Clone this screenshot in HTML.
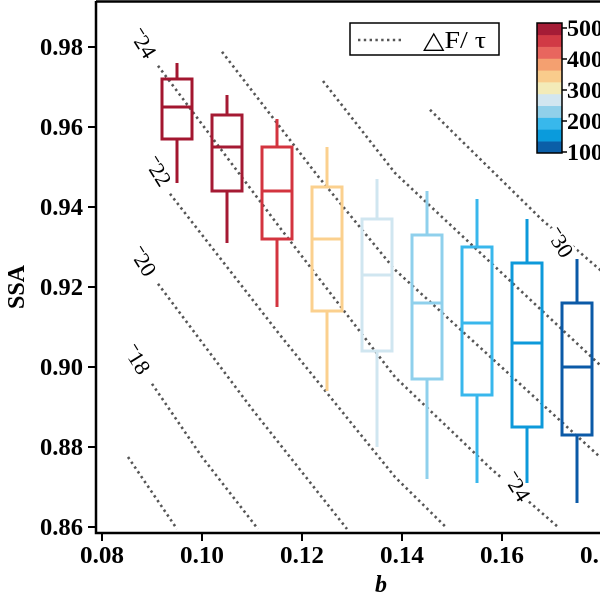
<!DOCTYPE html>
<html><head><meta charset="utf-8"><style>
body{margin:0;background:#fff}
svg text{font-family:"Liberation Serif","Times New Roman",serif}
</style></head><body>
<svg id="chart" width="600" height="600" xmlns="http://www.w3.org/2000/svg">
<defs><clipPath id="plotclip"><rect x="96" y="2" width="510" height="531"/></clipPath></defs>
<g id="contours" clip-path="url(#plotclip)"></g>
<g id="boxes"></g>
<g id="axes"></g>
</svg>
<script>
const categories=[0.095,0.105,0.115,0.125,0.135,0.145,0.155,0.165,0.175];
const whiskerLow=[0.946,0.931,0.915,0.894,0.880,0.872,0.871,0.871,0.866];
const q1=[0.957,0.944,0.932,0.914,0.904,0.897,0.893,0.885,0.883];
const medians=[0.965,0.955,0.944,0.932,0.923,0.916,0.911,0.906,0.900];
const q3=[0.972,0.963,0.955,0.945,0.937,0.933,0.930,0.926,0.916];
const whiskerHigh=[0.976,0.968,0.962,0.955,0.947,0.944,0.942,0.937,0.927];
const boxColors=["#a3162f","#a51a33","#d3343f","#fbd08e","#d0e6f0","#8fd0ec","#38b7ec","#0d99da","#0b5aa7"];
const xTicks=[0.08,0.10,0.12,0.14,0.16,0.18];
const yTicks=[0.86,0.88,0.90,0.92,0.94,0.96,0.98];
const contourLevels=[-16,-18,-20,-22,-24,-26,-28,-30];
const contourPoints=[
 [[0.0852,0.8775],[0.0950,0.8595]],
 [[0.0900,0.8958],[0.1000,0.8775],[0.1112,0.8595]],
 [[0.0912,0.9208],[0.1100,0.8895],[0.1290,0.8595]],
 [[0.0936,0.9433],[0.1156,0.9080],[0.1386,0.8725],[0.1490,0.8597]],
 [[0.0912,0.9753],[0.1156,0.9348],[0.1386,0.8975],[0.1576,0.8748],[0.1712,0.8600]],
 [[0.1040,0.9788],[0.1230,0.9480],[0.1386,0.9243],[0.1796,0.8775]],
 [[0.1242,0.9715],[0.1386,0.9485],[0.1796,0.9005]],
 [[0.1456,0.9643],[0.1680,0.9368],[0.1796,0.9243],[0.1900,0.913]]
];
const contourLabels=[["-24",0.0882,0.9808],["-22",0.0912,0.9488],["-20",0.0882,0.9263],["-18",0.0870,0.9018],["-30",0.1716,0.9310],["-24",0.1630,0.8700]];
const cbarColors=["#0b5fa8","#0a9bdc","#38b8ec","#90d0ea","#d2e6f0","#f3ebb8","#f9cc8c","#f4a070","#e8665e","#d13a45","#a51c36"];
const cbarTicks=[100,200,300,400,500];

const X=b=>102+(b-0.08)*5000;
const Y=s=>527-(s-0.86)*4000;
const NS="http://www.w3.org/2000/svg";
const FF='"Liberation Serif", serif';
function mk(tag,attrs,parent){const e=document.createElementNS(NS,tag);for(const k in attrs)e.setAttribute(k,attrs[k]);if(tag==='text')e.setAttribute('font-family',FF);parent.appendChild(e);return e;}

const cg=document.getElementById('contours');
contourPoints.forEach((pts,i)=>{
 const p=mk('polyline',{points:pts.map(q=>X(q[0])+','+Y(q[1])).join(' '),fill:'none',stroke:'#555','stroke-width':2.6,'stroke-dasharray':'2.4 3.4'},cg);
 
 
});
contourLabels.forEach(l=>{
 const x=X(l[1]),y=Y(l[2]);
 const bg=mk('rect',{x:x-17,y:y-10,width:34,height:20,fill:'#fff',transform:`rotate(58 ${x} ${y})`},cg);
 
 
 const t=mk('text',{x:x,y:y+7,'text-anchor':'middle','font-size':22,textLength:30,lengthAdjust:'spacingAndGlyphs',transform:`rotate(58 ${x} ${y})`},cg);
 t.textContent=l[0].replace('-','\u02C9');
 
 
});

const bg=document.getElementById('boxes');
categories.forEach((c,i)=>{
 const g=mk('g',{stroke:boxColors[i],'stroke-width':3,fill:'none'},bg);
 
 
 const x=X(c),hw=15;
 mk('line',{x1:x,x2:x,y1:Y(whiskerHigh[i]),y2:Y(q3[i])},g);
 mk('line',{x1:x,x2:x,y1:Y(q1[i]),y2:Y(whiskerLow[i])},g);
 mk('rect',{x:x-hw,y:Y(q3[i]),width:2*hw,height:Y(q1[i])-Y(q3[i])},g);
 mk('line',{x1:x-hw,x2:x+hw,y1:Y(medians[i]),y2:Y(medians[i])},g);
});

const ag=document.getElementById('axes');
let sp=mk('polyline',{points:'96,1 96,533 606,533',fill:'none',stroke:'#000','stroke-width':2.5},ag);

let tp=mk('line',{x1:96,x2:606,y1:1.5,y2:1.5,stroke:'#000','stroke-width':2.5},ag);

yTicks.forEach(v=>{
 mk('line',{x1:88,x2:96,y1:Y(v),y2:Y(v),stroke:'#000','stroke-width':2},ag);
 const t=mk('text',{x:40,y:Y(v)+8,'font-size':24,'font-weight':'bold',textLength:43,lengthAdjust:'spacingAndGlyphs'},ag);
 t.textContent=v.toFixed(2);
 
 
});
xTicks.forEach(v=>{
 mk('line',{x1:X(v),x2:X(v),y1:533,y2:541,stroke:'#000','stroke-width':2},ag);
 const t=mk('text',{x:X(v)-22,y:563,'font-size':24,'font-weight':'bold',textLength:44,lengthAdjust:'spacingAndGlyphs'},ag);
 t.textContent=v.toFixed(2);
 
 
});
let yl=mk('text',{x:24,y:287,'text-anchor':'middle','font-size':24,'font-weight':'bold',transform:'rotate(-90 24 287)'},ag);
yl.textContent='SSA';
let xl=mk('text',{x:381,y:592,'text-anchor':'middle','font-size':24,'font-weight':'bold','font-style':'italic'},ag);
xl.textContent='b';

// legend
const lg=mk('g',{},ag);

mk('rect',{x:350,y:23,width:149,height:32,fill:'#fff',stroke:'#000','stroke-width':1.5},lg);
mk('line',{x1:358,x2:404,y1:40,y2:40,stroke:'#555','stroke-width':2.6,'stroke-dasharray':'2.4 3.4'},lg);
let lt=mk('text',{x:423,y:48,'font-size':24,textLength:63,lengthAdjust:'spacingAndGlyphs'},lg);
lt.textContent='\u25B3F/ \u03C4';

// colorbar
const cb=mk('g',{},ag);

const cbTop=23,cbBot=153,bh=(cbBot-cbTop)/cbarColors.length;
cbarColors.forEach((c,i)=>{mk('rect',{x:537,y:cbBot-(i+1)*bh,width:25,height:bh+0.3,fill:c},cb);});
mk('rect',{x:537,y:cbTop,width:25,height:cbBot-cbTop,fill:'none',stroke:'#000','stroke-width':1.5},cb);
cbarTicks.forEach(v=>{
 const y=152-(v-100)/400*124;
 mk('line',{x1:562,x2:567,y1:y,y2:y,stroke:'#000','stroke-width':1.5},cb);
 const t=mk('text',{x:567,y:y+8,'font-size':23,'font-weight':'bold',textLength:36,lengthAdjust:'spacingAndGlyphs'},cb);
 t.textContent=v;
});
</script>
</body></html>
